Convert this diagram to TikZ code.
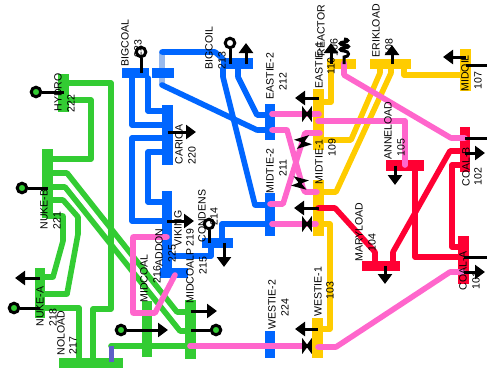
\documentclass[tikz,border=0pt]{standalone}
\usepackage{fontspec}
\setmainfont{Liberation Sans}
\usetikzlibrary{arrows.meta}

\definecolor{busgreen}{rgb}{0.2,0.8,0.2}
\definecolor{busblue}{rgb}{0,0.4,1}
\definecolor{buspink}{rgb}{1,0.4,0.8}
\definecolor{busyellow}{rgb}{1,0.8,0}
\definecolor{busred}{rgb}{1,0,0.2}
\definecolor{tieblue}{rgb}{0.6,0.73,0.93}
\definecolor{tieviolet}{rgb}{0.37,0.37,0.78}
\def\px{0.75pt}

\tikzset{every picture/.style={line width=0.75pt},
	vbus/.style={draw=none,inner sep=0pt,minimum width=10.5*\px},
	hbus/.style={draw=none,inner sep=0pt,minimum height=10.5*\px},
	branch/.style={line width=5.6*\px,line cap=round,line join=round},
	loadtip/.style={line width=3*\px,-{Triangle[length=10*\px,width=14*\px]}},
	stick/.style={line width=3*\px},
	gen/.style={circle,draw=black,line width=3*\px,inner sep=0pt,minimum size=9.5*\px},
	lbl/.style={rotate=90,anchor=west,inner sep=0pt,font=\fontsize{7.9pt}{9pt}\selectfont},
	shifter/.pic={\filldraw[black,line width=1.6*\px] (-4,-5.5) -- (-4,5.5) -- (4,-5.5) -- (4,5.5) -- cycle;
		\draw[line width=4*\px] (-4,0) -- (4,0);}
}

\begin{document}
\begin{tikzpicture}[x=0.75pt,y=0.75pt,yscale=-1,xscale=1]
	\useasboundingbox (0,0) rectangle (487,368);

	%Tie behind the second coal bus
	\draw [tieblue,line width=5.6*\px] (162,52) -- (162,85) ;

	%Green buses
	\node[vbus,fill=busgreen,minimum height=38*\px] (hydro) at (63.5,93) {};
	\node[vbus,fill=busgreen,minimum height=69*\px] (nukeb) at (47.5,183.5) {};
	\node[vbus,fill=busgreen,minimum height=50*\px] (nukea) at (40,293) {};
	\node[hbus,fill=busgreen,minimum width=64*\px] (noload) at (91,363) {};
	\node[vbus,fill=busgreen,minimum height=56*\px] (midcoal) at (147,329) {};
	\node[vbus,fill=busgreen,minimum height=59*\px] (midcoalp) at (190.5,329.5) {};
	%Blue buses
	\node[hbus,fill=busblue,minimum width=27*\px] (bigcoal) at (135.5,73) {};
	\node[hbus,fill=busblue,minimum width=22*\px] (bigcoaltwo) at (163,73) {};
	\node[hbus,fill=busblue,minimum width=32*\px] (bigcoil) at (237,63.5) {};
	\node[vbus,fill=busblue,minimum height=60*\px] (carica) at (167.5,135) {};
	\node[vbus,fill=busblue,minimum height=77*\px] (viking) at (167,229.5) {};
	\node[hbus,fill=busblue,minimum width=28*\px] (addon) at (173.5,273) {};
	\node[hbus,fill=busblue,minimum width=31*\px] (condens) at (217.5,243) {};
	\node[vbus,fill=busblue,minimum height=36*\px] (eastietwo) at (270,122) {};
	\node[vbus,fill=busblue,minimum height=43*\px] (midtietwo) at (270,214.5) {};
	\node[vbus,fill=busblue,minimum height=27*\px] (westietwo) at (270,344.5) {};
	%Yellow buses
	\node[vbus,fill=busyellow,minimum height=61*\px] (eastieone) at (318.5,119.5) {};
	\node[vbus,fill=busyellow,minimum height=56*\px] (midtieone) at (318.5,208) {};
	\node[vbus,fill=busyellow,minimum height=40*\px] (westieone) at (317.5,338) {};
	\node[hbus,fill=busyellow,minimum width=29*\px] (reactor) at (341.5,64) {};
	\node[hbus,fill=busyellow,minimum width=41*\px] (erikload) at (390.5,64) {};
	\node[vbus,fill=busyellow,minimum height=42*\px] (midoil) at (465.5,70) {};
	%Red buses
	\node[hbus,fill=busred,minimum width=38*\px] (anneload) at (405,165.5) {};
	\node[hbus,fill=busred,minimum width=38*\px] (maryload) at (381,266) {};
	\node[vbus,fill=busred,minimum height=45*\px] (coalb) at (465,149.5) {};
	\node[vbus,fill=busred,minimum height=48*\px] (coala) at (463.5,260) {};

	%Green lines
	\draw [busgreen,branch] (hydro |- 0,83) -- (111,83) -- (111,309) -- (93,309) -- (93,358) ;
	\draw [busgreen,branch] (hydro |- 0,100) -- (91,100) -- (91,159) -- (nukeb |- 0,159) ;
	\draw [busgreen,branch] (nukeb |- 0,173) -- (67,173) -- (177,312) -- (midcoalp |- 0,312) ;
	\draw [busgreen,branch] (nukeb |- 0,187) -- (65,187) -- (180,331) -- (midcoalp |- 0,331) ;
	\draw [busgreen,branch] (nukeb |- 0,200) -- (63,200) -- (78,217) -- (78,234) -- (67,294) -- (nukea |- 0,294) ;
	\draw [busgreen,branch] (nukeb |- 0,216) -- (63,216) -- (63,241) -- (53,277) -- (nukea |- 0,277) ;
	\draw [busgreen,branch] (nukea |- 0,308) -- (79,308) -- (79,358) ;
	\draw [busgreen,branch] (111,346) -- (midcoalp |- 0,346) ;
	\draw [tieviolet,line width=5*\px] (111,346) -- (111,362) ;

	%Blue lines
	\draw [busblue,branch] (132,78) -- (132,125) -- (carica |- 0,125) ;
	\draw [busblue,branch] (148,78) -- (148,111) -- (carica |- 0,111) ;
	\draw [busblue,branch] (carica |- 0,138) -- (132,138) -- (132,221) -- (viking |- 0,221) ;
	\draw [busblue,branch] (carica |- 0,152) -- (148,152) -- (148,202) -- (viking |- 0,202) ;
	\draw [busblue,branch] (162,52) -- (215,52) -- (222,58) ;
	\draw [busblue,branch] (162,85) -- (257,130) -- (eastietwo |- 0,130) ;
	\draw [busblue,branch] (223,68) -- (223,77) -- (255,205) -- (midtietwo |- 0,205) ;
	\draw [busblue,branch] (238,68) -- (238,77) -- (257,115) -- (eastietwo |- 0,115) ;
	\draw [busblue,branch] (midtietwo |- 0,224) -- (222,224) -- (222,240) ;
	\draw [busblue,branch] (211,247) -- (211,256) -- (viking |- 0,256) ;

	%Yellow lines
	\draw [busyellow,branch] (331,68) -- (331,102) -- (eastieone |- 0,102) ;
	\draw [busyellow,branch] (eastieone |- 0,140) -- (351,140) -- (380,73) -- (380,68) ;
	\draw [busyellow,branch] (midtieone |- 0,192) -- (336,192) -- (391,73) -- (391,68) ;
	\draw [busyellow,branch] (404,68) -- (404,75) -- (midoil |- 0,75) ;
	\draw [busyellow,branch] (midtieone |- 0,224) -- (330,224) -- (330,329) -- (westieone |- 0,329) ;

	%Red lines
	\draw [busred,branch] (318,208) -- (335,208) -- (375,252) -- (375,262) ;
	\draw [busred,branch] (415,171) -- (415,257) -- (coala |- 0,257) ;
	\draw [busred,branch] (393,262) -- (393,252) -- (450,151) -- (coalb |- 0,151) ;
	\draw [busred,branch] (coalb |- 0,165) -- (452,165) -- (452,247) -- (coala |- 0,247) ;

	%Pink lines
	\draw [buspink,branch] (272,114) -- (319,114) ;
	\draw [buspink,branch] (272,130) -- (287,130) -- (303,188) -- (305,192) -- (317,192) ;
	\draw [buspink,branch] (270,204) -- (283,204) -- (305,133) -- (320,133) ;
	\draw [buspink,branch] (272,224) -- (316,224) ;
	\draw [buspink,branch] (190,346) -- (305,346) ;
	\draw [buspink,branch] (318,347) -- (336,347) -- (450,272) -- (463,272) ;
	\draw [buspink,branch] (318,121) -- (405,121) -- (405,165) ;
	\draw [buspink,branch] (344,63) -- (344,75) -- (451,138) -- (465,138) ;
	\draw [buspink,branch] (167,237) -- (133,237) -- (133,313) -- (155,313) -- (175,275) ;

	%Shifters
	\pic at (307,114) {shifter};
	\pic at (307,224) {shifter};
	\pic at (307,346) {shifter};
	\pic[rotate=-73] at (303,142) {shifter};
	\pic[rotate=75] at (300,183) {shifter};

	%Generators
	\node[gen,fill=busgreen] (genhydro) at (36,92) {};
	\draw [stick] (genhydro) -- (hydro |- genhydro) ;
	\node[gen,fill=busgreen] (gennukeb) at (22,188) {};
	\draw [stick] (gennukeb) -- (nukeb |- gennukeb) ;
	\node[gen,fill=busgreen] (gennukea) at (14,308) {};
	\draw [stick] (gennukea) -- (nukea |- gennukea) ;
	\node[gen,fill=busgreen] (genmidcoal) at (121,330) {};
	\draw [stick] (genmidcoal) -- (midcoal |- genmidcoal) ;
	\node[gen,fill=busgreen] (genmidcoalp) at (216,330) {};
	\draw [stick] (genmidcoalp) -- (midcoalp |- genmidcoalp) ;
	\node[gen,fill=white] (genbigcoal) at (141,52) {};
	\draw [stick] (genbigcoal) -- (genbigcoal |- bigcoal) ;
	\node[gen,fill=white] (genbigcoil) at (230,43) {};
	\draw [stick] (genbigcoil) -- (genbigcoil |- bigcoil) ;
	\node[gen,fill=white] (gencondens) at (209,224) {};
	\draw [stick] (gencondens) -- (gencondens |- condens) ;
	\node[gen,fill=white] (gencoalb) at (494,138) {};
	\draw [stick] (gencoalb) -- (coalb |- gencoalb) ;
	\node[gen,fill=white] (gencoala) at (494,257) {};
	\draw [stick] (gencoala) -- (coala |- gencoala) ;
	\node[gen,fill=white] (genmidoil) at (494,65) {};
	\draw [stick] (genmidoil) -- (midoil |- genmidoil) ;

	%Loads
	\draw [loadtip] (carica |- 0,132) -- (196,132) ;
	\draw [loadtip] (viking |- 0,221) -- (194,221) ;
	\draw [loadtip] (condens -| 224,0) -- (224,267) ;
	\draw [loadtip] (midcoal |- 0,330) -- (168,330) ;
	\draw [loadtip] (midcoalp |- 0,311) -- (217,311) ;
	\draw [loadtip] (nukea |- 0,278) -- (15,278) ;
	\draw [loadtip] (bigcoil -| 246,0) -- (246,43) ;
	\draw [loadtip] (eastieone |- 0,98) -- (295,98) ;
	\draw [loadtip] (midtieone |- 0,208) -- (294,208) ;
	\draw [loadtip] (westieone |- 0,329) -- (295,329) ;
	\draw [loadtip] (reactor -| 331,0) -- (331,43) ;
	\draw [loadtip] (erikload -| 392,0) -- (392,45) ;
	\draw [loadtip] (midoil |- 0,57) -- (443,57) ;
	\draw [loadtip] (coalb |- 0,153) -- (485,153) ;
	\draw [loadtip] (coala |- 0,272) -- (485,272) ;
	\draw [loadtip] (anneload -| 395,0) -- (395,185) ;
	\draw [loadtip] (maryload -| 385,0) -- (385,284) ;

	%Reactor coil
	\draw [stick] (reactor -| 344,0) -- (344,57) .. controls (350,57) and (350,51) .. (344,51) .. controls (339,51) and (339,48) .. (344,48) .. controls (350,48) and (350,45) .. (344,45) .. controls (339,45) and (339,42) .. (344,42) .. controls (349,42) and (349,39) .. (344,39) ;

	% Text Node
	\node[lbl] (lblhydro) at (58,112) {HYDRO};
	\node[lbl] (numhydro) at (71,113) {222};
	\node[lbl] (lblbigcoal) at (125,67) {BIGCOAL};
	\node[lbl] (numbigcoal) at (138,58) {223};
	\node[lbl] (lblbigcoil) at (209,70) {BIGCOIL};
	\node[lbl] (numbigcoil) at (222,70) {213};
	\node[lbl] (lblcarica) at (179,165) {CARICA};
	\node[lbl] (numcarica) at (192,165) {220};
	\node[lbl] (lbleastietwo) at (270,100) {EASTIE-2};
	\node[lbl] (numeastietwo) at (283,91) {212};
	\node[lbl] (lbleastieone) at (319,89) {EASTIE-1};
	\node[lbl] (numeastieone) at (331,75) {110};
	\node[lbl] (lblreactor) at (321,57) {REACTOR};
	\node[lbl] (numreactor) at (334,57) {106};
	\node[lbl] (lblerikload) at (376,58) {ERIKLOAD};
	\node[lbl] (numerikload) at (389,57) {108};
	\node[lbl] (lblmidoil) at (465,92) {MIDOIL};
	\node[lbl] (nummidoil) at (478,90) {107};
	\node[lbl] (lblmidtietwo) at (270,194) {MIDTIE-2};
	\node[lbl] (nummidtietwo) at (283,177) {211};
	\node[lbl] (lblmidtieone) at (319,185) {MIDTIE-1};
	\node[lbl] (nummidtieone) at (332,157) {109};
	\node[lbl] (lblanneload) at (388,160) {ANNELOAD};
	\node[lbl] (numanneload) at (401,157) {105};
	\node[lbl] (lblcoalb) at (466,187) {COAL-B};
	\node[lbl] (numcoalb) at (478,186) {102};
	\node[lbl] (lblcoala) at (463,291) {COAL-A};
	\node[lbl] (numcoala) at (476,290) {101};
	\node[lbl] (lblmaryload) at (359,262) {MARYLOAD};
	\node[lbl] (nummaryload) at (372,252) {104};
	\node[lbl] (lblwestieone) at (318,317) {WESTIE-1};
	\node[lbl] (numwestieone) at (330,300) {103};
	\node[lbl] (lblwestietwo) at (272,330) {WESTIE-2};
	\node[lbl] (numwestietwo) at (285,317) {224};
	\node[lbl] (lblnukeb) at (44,230) {NUKE-B};
	\node[lbl] (numnukeb) at (57,230) {221};
	\node[lbl] (lblnukea) at (40,327) {NUKE-A};
	\node[lbl] (numnukea) at (53,327) {218};
	\node[lbl] (lblnoload) at (61,356) {NOLOAD};
	\node[lbl] (numnoload) at (73,355) {217};
	\node[lbl] (lblmidcoal) at (144,303) {MIDCOAL};
	\node[lbl] (nummidcoal) at (157,284) {216};
	\node[lbl] (lblmidcoalp) at (190,304) {MIDCOALP};
	\node[lbl] (nummidcoalp) at (203,275) {215};
	\node[lbl] (lbladdon) at (159,267) {ADDON};
	\node[lbl] (numaddon) at (172,263) {225};
	\node[lbl] (lblviking) at (178,247) {VIKING};
	\node[lbl] (numviking) at (190,247) {219};
	\node[lbl] (lblcondens) at (202,243) {CONDENS};
	\node[lbl] (numcondens) at (214,226) {214};

\end{tikzpicture}
\end{document}
